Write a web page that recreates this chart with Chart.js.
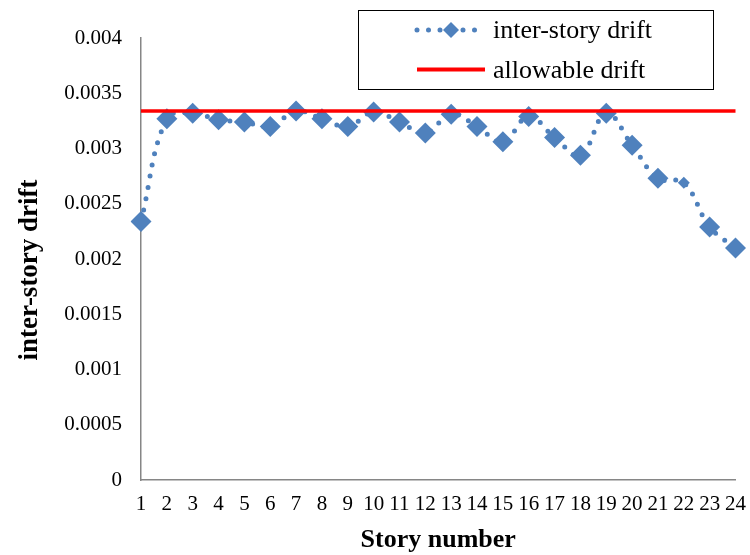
<!DOCTYPE html>
<html><head><meta charset="utf-8">
<script src="https://cdn.jsdelivr.net/npm/chart.js@4/dist/chart.umd.min.js"></script>
<style>html,body{margin:0;padding:0;background:#fff}canvas{display:block}</style>
</head><body>
<canvas id="c" width="750" height="555"></canvas>
<script>
const storyNumbers = ['1','2','3','4','5','6','7','8','9','10','11','12','13','14','15','16','17','18','19','20','21','22','23','24'];
const interStoryDrift = [0.00234,0.00327,0.00332,0.00326,0.00324,0.00320,0.00334,0.00327,0.00320,0.00333,0.00324,0.00314,0.00331,0.00320,0.00306,0.00329,0.00310,0.00294,0.00332,0.00303,0.00273,0.00269,0.00229,0.00210];
const allowableDrift = 0.00334;
const yTickLabels = ['0','0.0005','0.001','0.0015','0.002','0.0025','0.003','0.0035','0.004'];
const seriesNames = ['inter-story drift','allowable drift'];
const xAxisTitle = 'Story number';
const yAxisTitle = 'inter-story drift';

const BLUE = '#4F81BD', RED = '#FF0000', AXIS = '#868686';
const SERIF = '"Liberation Serif", "Times New Roman", serif';

const boxLegend = {
  id: 'boxLegend',
  afterDraw(chart) {
    const ctx = chart.ctx;
    const area = chart.chartArea;
    ctx.save();
    ctx.strokeStyle = '#000';
    ctx.lineWidth = 1;
    ctx.strokeRect(358.5, 10.5, 355, 79);
    // row 1: dotted blue with diamond
    ctx.strokeStyle = BLUE;
    ctx.lineWidth = 5;
    ctx.lineCap = 'round';
    ctx.setLineDash([0, 11.5]);
    ctx.beginPath(); ctx.moveTo(417, 30); ctx.lineTo(482, 30); ctx.stroke();
    ctx.setLineDash([]);
    ctx.fillStyle = BLUE;
    ctx.beginPath();
    const r = 8, cx = 451, cy = 30;
    ctx.moveTo(cx, cy - r); ctx.lineTo(cx + r, cy); ctx.lineTo(cx, cy + r); ctx.lineTo(cx - r, cy); ctx.closePath(); ctx.fill();
    // row 2: red line
    ctx.strokeStyle = RED;
    ctx.lineWidth = 4;
    ctx.lineCap = 'butt';
    ctx.beginPath(); ctx.moveTo(417, 69.5); ctx.lineTo(485, 69.5); ctx.stroke();
    ctx.fillStyle = '#000';
    ctx.font = '26px ' + SERIF;
    ctx.textBaseline = 'alphabetic';
    ctx.textAlign = 'left';
    ctx.fillText(seriesNames[0], 493, 38);
    ctx.fillText(seriesNames[1], 493, 78);
    // axis titles
    ctx.textAlign = 'center';
    ctx.textBaseline = 'alphabetic';
    ctx.font = 'bold 26px ' + SERIF;
    ctx.fillText(xAxisTitle, (area.left + area.right) / 2, 547);
    ctx.translate(37, 270);
    ctx.rotate(-Math.PI / 2);
    ctx.font = 'bold 27px ' + SERIF;
    ctx.fillText(yAxisTitle, 0, 0);
    ctx.restore();
  }
};

new Chart(document.getElementById('c'), {
  type: 'line',
  data: {
    labels: storyNumbers,
    datasets: [
      {
        label: seriesNames[0],
        data: interStoryDrift,
        order: 1,
        borderColor: BLUE,
        backgroundColor: BLUE,
        borderWidth: 5,
        borderDash: [0, 11.5],
        borderCapStyle: 'round',
        tension: 0.4,
        pointStyle: 'rectRot',
        pointRadius: (c) => c.dataIndex === 21 ? 6 : 10.5,
        pointBackgroundColor: BLUE,
        pointBorderColor: BLUE,
        pointBorderWidth: 0,
        fill: false
      },
      {
        label: seriesNames[1],
        data: storyNumbers.map(() => allowableDrift),
        order: 0,
        borderColor: RED,
        borderWidth: 3.5,
        pointRadius: 0,
        tension: 0,
        fill: false
      }
    ]
  },
  options: {
    responsive: false,
    animation: false,
    layout: { padding: { left: 0, top: 38, right: 14, bottom: 0 } },
    plugins: { legend: { display: false }, tooltip: { enabled: false } },
    scales: {
      x: {
        type: 'category',
        offset: false,
        grid: { display: false },
        border: { display: true, color: AXIS, width: 1.5 },
        ticks: { autoSkip: false, maxRotation: 0, color: '#000', padding: 4, font: { family: SERIF, size: 21 } },
        title: { display: false, text: xAxisTitle },
        afterFit: (s) => { s.height = 75; }
      },
      y: {
        min: 0, max: 0.004,
        grid: { display: false },
        border: { display: true, color: AXIS, width: 1.5 },
        ticks: { stepSize: 0.0005, color: '#000', padding: 11, font: { family: SERIF, size: 21 },
          callback: (v, i) => yTickLabels[i] },
        title: { display: false, text: yAxisTitle },
        afterFit: (s) => { s.width = 141; }
      }
    }
  },
  plugins: [boxLegend]
});
</script>
</body></html>
